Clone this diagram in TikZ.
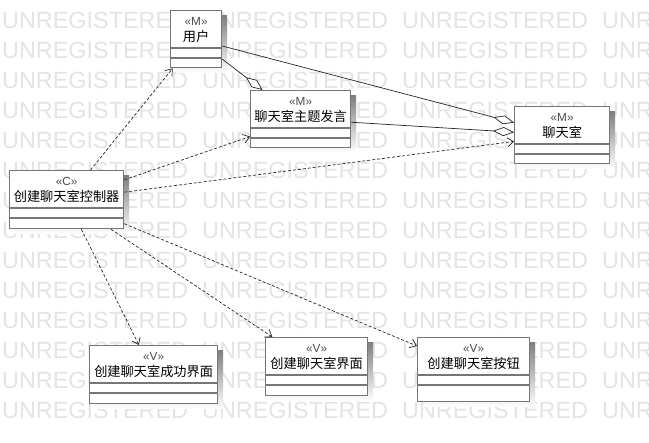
\documentclass[tikz,border=0pt]{standalone}
\usepackage{fontspec}
\setmainfont{Liberation Sans}
\newfontfamily\cjk{Noto Sans CJK SC}
\usetikzlibrary{calc,arrows.meta}
\definecolor{boxline}{RGB}{118,118,118}
\definecolor{shade}{RGB}{236,236,236}
\definecolor{wmark}{RGB}{228,228,228}
\tikzset{
	umlbox/.style={draw=boxline, line width=1.3pt, fill=white, inner sep=0, anchor=north west},
	stereo/.style={font=\fontsize{11.8}{13}\selectfont, text=black!70, inner sep=0},
	clsname/.style={font=\cjk\fontsize{13.2}{15}\selectfont, inner sep=0},
	depend/.style={draw=black!85, line width=0.7pt, dash pattern=on 3pt off 2pt, -{Straight Barb[length=6pt,width=9pt]}},
	aggr/.style={draw=black!85, line width=0.7pt, {Diamond[fill=white,length=21pt,width=9pt]}-},
	watermark/.style={font=\fontsize{23.4}{26}\selectfont, text=wmark, inner sep=0, anchor=west}
}
\def\umlclass(#1)(#2,#3)(#4,#5)#6#7{
	\fill[shade] (#2+6,#3+6) rectangle ++(#4,#5);
	\node[umlbox, minimum width=#4pt, minimum height=#5pt] (#1) at (#2,#3) {};
	\draw[boxline, line width=1.3pt] ($(#1.north west)+(0,38)$) -- ($(#1.north east)+(0,38)$);
	\draw[boxline, line width=1.3pt] ($(#1.north west)+(0,48)$) -- ($(#1.north east)+(0,48)$);
	\node[stereo] (#1-st) at ($(#1.north)+(0,11)$) {«#6»};
	\node[clsname] (#1-nm) at ($(#1.north)+(0,26)$) {#7};
}
\begin{document}
\begin{tikzpicture}[x=1pt, y=-1pt]
			%%%%% START %%%%%
			\clip (0,0) rectangle (649,443);
			\fill[white] (0,0) rectangle (649,443);
			
			\foreach \r in {0,...,13}
				\foreach \c in {0,...,3}
					\node[watermark] (wm-\r-\c) at (2+200*\c, 20.7+30*\r) {UNREGISTERED};
			
			\umlclass(user)(170,10)(51,57){M}{用户}
			\umlclass(topic)(250,90)(100,57){M}{聊天室主题发言}
			\umlclass(room)(514,106)(95,57){M}{聊天室}
			\umlclass(ctrl)(9,170)(114,58){C}{创建聊天室控制器}
			\umlclass(okui)(89,345)(128,58){V}{创建聊天室成功界面}
			\umlclass(ui)(265,337)(102,58){V}{创建聊天室界面}
			\umlclass(btn)(417,337)(112,64){V}{创建聊天室按钮}
			
			\draw[aggr] (topic) -- (user);
			\draw[aggr] (room) -- (user);
			\draw[aggr] (room) -- (topic);
			
			\draw[depend] (ctrl) -- (user);
			\draw[depend] (ctrl) -- (topic);
			\draw[depend] (ctrl) -- (room);
			\draw[depend] (ctrl) -- (okui);
			\draw[depend] (ctrl) -- (ui);
			\draw[depend] (ctrl) -- (btn);
			%%%%% END %%%%%
		\end{tikzpicture}
\end{document}
